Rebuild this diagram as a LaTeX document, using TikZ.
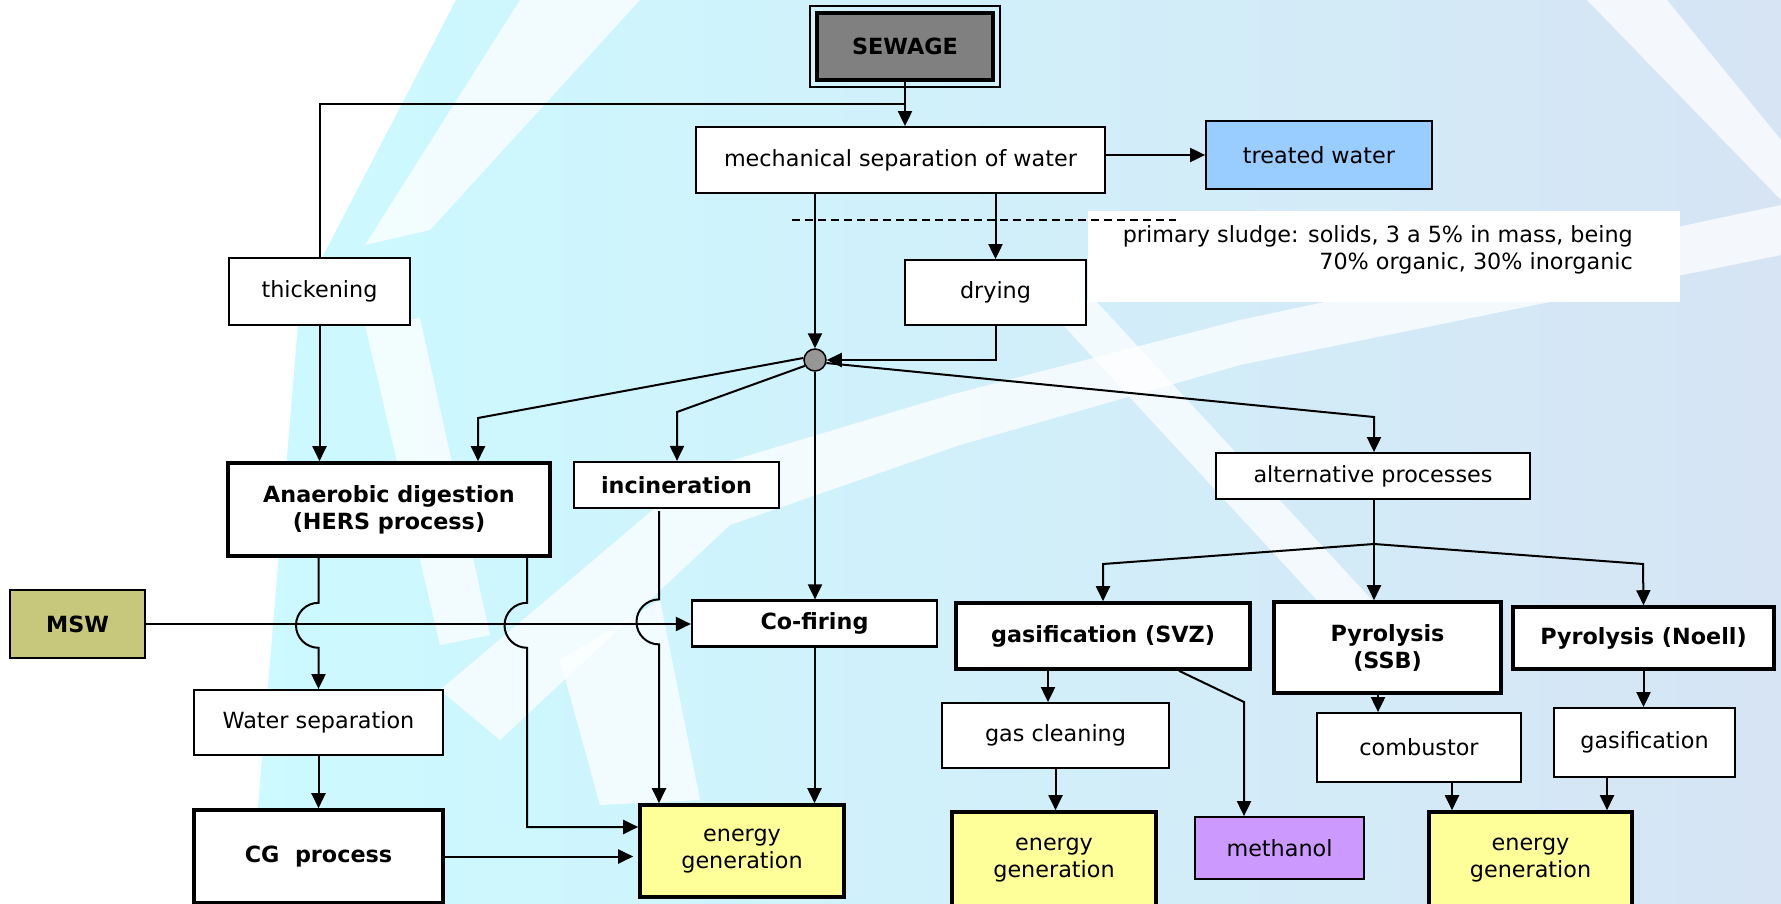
\documentclass[tikz,border=0pt]{standalone}
\usepackage{fontspec}
\setmainfont{DejaVu Sans}
\usetikzlibrary{arrows.meta,calc}
\definecolor{sewgray}{RGB}{128,128,128}
\definecolor{twblue}{RGB}{153,204,255}
\definecolor{enyel}{RGB}{255,255,153}
\definecolor{methv}{RGB}{204,153,255}
\definecolor{mswol}{RGB}{200,200,125}
\definecolor{dotgray}{RGB}{150,150,150}
\definecolor{cyanbg}{RGB}{204,250,255}
\definecolor{bluebg}{RGB}{214,228,244}
\begin{document}
\begin{tikzpicture}[x=1pt,y=-1pt,
  font=\fontsize{22.3}{27}\selectfont,
  ln/.style={line width=2pt},
  arr/.style={line width=2pt,-{Triangle[length=15pt,width=14pt]}},
  box/.style={draw=black,line width=1.8pt,fill=white,inner sep=0pt,align=center},
  tbox/.style={box,line width=3.6pt,font=\fontsize{22.3}{27}\selectfont\bfseries},
  sz/.style 2 args={minimum width=#1pt,minimum height=#2pt},
  band/.style={fill=white,opacity=0.75}]
\useasboundingbox (0,0) rectangle (1781,904);
% background
\fill[white] (0,0) rectangle (1781,904);
\shade[left color=cyanbg,middle color=cyanbg,right color=bluebg]
  (456,0) -- (1781,0) -- (1781,904) -- (250,904) -- (300,300) -- cycle;
\fill[band] (520,0) -- (640,0) -- (430,230) -- (365,245) -- cycle;
\fill[band] (365,325) -- (420,318) -- (490,635) -- (440,645) -- cycle;
\fill[band] (440,690) -- (700,470) -- (950,395) -- (1240,320) -- (1781,205) -- (1781,255)
  -- (1240,365) -- (960,445) -- (730,525) -- (500,740) -- cycle;
\fill[band] (560,660) -- (660,600) -- (700,800) -- (600,805) -- cycle;
\fill[band] (1040,300) -- (1095,300) -- (1395,625) -- (1340,625) -- cycle;
\fill[band] (1587,0) -- (1667,0) -- (1781,140) -- (1781,200) -- cycle;
% annotation
\fill[white] (1088,211) rectangle (1680,302);
\node[anchor=east,align=right,inner sep=0pt] (note) at (1633,250)
  {primary sludge: solids, 3 a 5\% in mass, being\\70\% organic, 30\% inorganic};
\draw[line width=1.5pt,dash pattern=on 8pt off 5pt] (792,220) -- (1176,220);
% nodes
\node[tbox,fill=sewgray,sz={176}{67}] (sew) at (905,46.5) {SEWAGE};
\draw[line width=1.5pt] ([shift={(-5,-5)}]sew.north west) rectangle ([shift={(5,5)}]sew.south east);
\node[box,sz={409}{66}] (mech) at (900.5,160) {mechanical separation of water};
\node[box,fill=twblue,sz={226}{68}] (tw) at (1319,155) {treated water};
\node[box,sz={181}{67}] (thk) at (319.5,291.5) {thickening};
\node[box,sz={181}{65}] (dry) at (995.5,292.5) {drying};
\node[circle,draw=black,line width=1.5pt,fill=dotgray,minimum size=22pt,inner sep=0pt] (dot) at (815,360) {};
\node[tbox,sz={322}{93}] (AD) at (389,509.5) {Anaerobic digestion\\(HERS process)};
\node[tbox,line width=2.2pt,sz={205}{46}] (inc) at (676.5,485) {incineration};
\node[tbox,line width=2.2pt,sz={245}{46}] (cof) at (814.5,623.5) {Co-firing};
\node[tbox,line width=2.2pt,fill=mswol,sz={135}{68}] (msw) at (77.5,624) {MSW};
\node[box,sz={249}{65}] (ws) at (318.5,722.5) {Water separation};
\node[tbox,sz={249}{93}] (cg) at (318.5,856.5) {CG~~process};
\node[box,line width=3.6pt,fill=enyel,sz={204}{92}] (E1) at (742,851) {energy\\generation};
\node[box,sz={314}{46}] (alt) at (1373,476) {alternative processes};
\node[tbox,sz={294}{66}] (svz) at (1103,636) {gasification (SVZ)};
\node[tbox,sz={227}{91}] (ssb) at (1387.5,647.5) {Pyrolysis\\(SSB)};
\node[tbox,sz={261}{62}] (noell) at (1643.5,638) {Pyrolysis (Noell)};
\node[box,sz={227}{65}] (gc) at (1055.5,735.5) {gas cleaning};
\node[box,sz={204}{69}] (comb) at (1419,747.5) {combustor};
\node[box,sz={181}{69}] (gs) at (1644.5,742.5) {gasification};
\node[box,fill=methv,sz={169}{62}] (meth) at (1279.5,848) {methanol};
\node[box,line width=3.6pt,fill=enyel,sz={204}{96}] (E2) at (1054,860) {energy\\generation};
\node[box,line width=3.6pt,fill=enyel,sz={203}{96}] (E3) at (1530.5,860) {energy\\generation};
% coordinates
\coordinate (b1) at (478,418);
\coordinate (b2) at (677,412);
\coordinate (b3) at (1374,417);
\coordinate (j) at (1374,544);
\coordinate (jl) at (1103,564);
\coordinate (jr) at (1643,564);
\coordinate (mx) at (1244,702);
\coordinate (ix) at (659,511);
\coordinate (a2) at ([xshift=138pt]AD.south);
\coordinate (p1) at ([xshift=-55pt]svz.south);
\coordinate (p2) at ([xshift=76pt]svz.south);
\coordinate (p3) at ([xshift=-9.5pt]ssb.south);
\coordinate (p4) at ([xshift=33pt]comb.south);
\coordinate (p5) at ([xshift=-37.5pt]gs.south);
% connectors
\draw[arr] (sew.south) -- (sew.south |- mech.north);
\draw[ln] (thk.north) |- ($(sew.south)+(0,22)$);
\draw[arr] (mech.east |- tw.west) -- (tw.west);
\draw[arr] (mech.south -| dot.north) -- (dot.north);
\draw[arr] (dry.north |- mech.south) -- (dry.north);
\draw[arr] (dry.south) |- (dot.east);
\draw[arr] (dot.170) -- (b1) -- (b1 |- AD.north);
\draw[arr] (dot.210) -- (b2) -- (b2 |- inc.north);
\draw[arr] (dot.south) -- (dot.south |- cof.north);
\draw[arr] (dot.-15) -- (b3) -- (b3 |- alt.north);
\draw[arr] (thk.south) -- (thk.south |- AD.north);
\draw[arr] (msw.east) -- (msw.east -| cof.west);
\draw[arr] (AD.south -| ws.north) -- ++(0,45) arc[start angle=90,end angle=270,radius=22.5pt] -- (ws.north);
\draw[arr] (a2) -- ++(0,45) arc[start angle=90,end angle=270,radius=22.5pt] |- ([yshift=24pt]E1.west);
\draw[arr] (ix) -- (ix |- cof.north) arc[start angle=90,end angle=270,radius=22.5pt] -- (ix |- E1.north);
\draw[arr] (cof.south) -- (cof.south |- E1.north);
\draw[arr] (ws.south) -- (cg.north);
\draw[arr,shorten >=5pt] (cg.east) -- (cg.east -| E1.west);
\draw[ln] (alt.south -| j) -- (j);
\draw[arr] (j) -- (jl) -- (svz.north);
\draw[arr] (j) -- (j |- ssb.north);
\draw[arr] (j) -- (jr) -- (noell.north);
\draw[arr] (p1) -- (p1 |- gc.north);
\draw[arr] (p2) -- (mx) -- (mx |- meth.north);
\draw[arr] (gc.south) -- (gc.south |- E2.north);
\draw[arr] (p3) -- (p3 |- comb.north);
\draw[arr] (noell.south) -- (noell.south |- gs.north);
\draw[arr] (p4) -- (p4 |- E3.north);
\draw[arr] (p5) -- (p5 |- E3.north);
\end{tikzpicture}
\end{document}
